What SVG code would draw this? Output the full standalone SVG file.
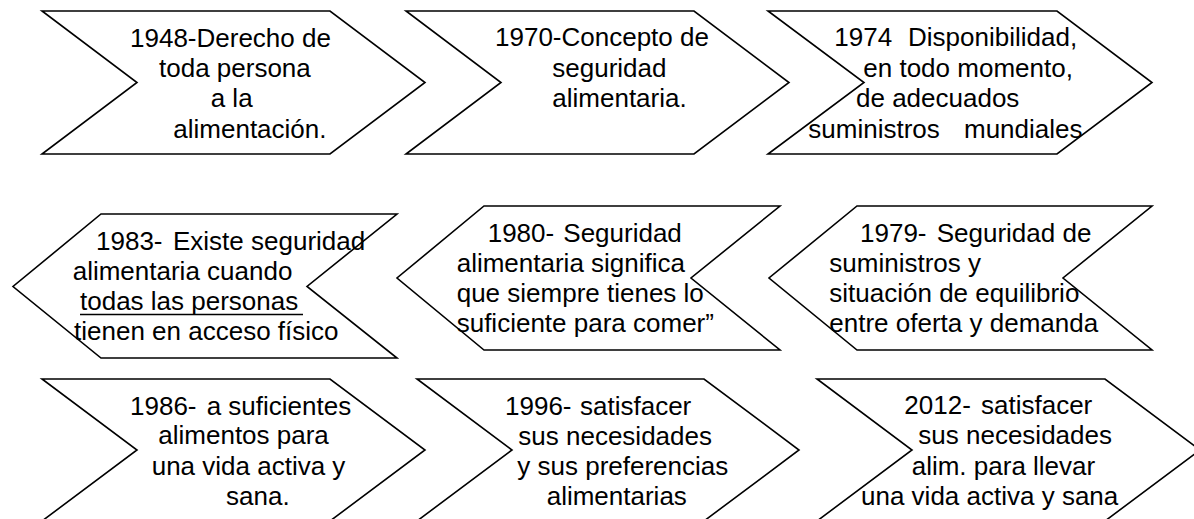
<svg xmlns="http://www.w3.org/2000/svg" width="1194" height="519" viewBox="0 0 1194 519">
<style>
.s{fill:#fff;stroke:#000;stroke-width:1.6;stroke-linejoin:miter}
.t{font-family:"Liberation Sans",Arial,sans-serif;font-size:26px;fill:#000}
</style>
<rect width="1194" height="519" fill="#fff"/>
<g id="connectors"></g>
<g id="n1948"><polygon class="s" points="42,11 330,11 425,82.5 330,154 42,154 137,82.5"/></g>
<g id="n1970"><polygon class="s" points="406,11 694,11 789,82.5 694,154 406,154 501,82.5"/></g>
<g id="n1974"><polygon class="s" points="768,11 1057,11 1152,82.5 1057,154 768,154 864,82.5"/></g>
<g id="n1983"><polygon class="s" points="101,214 397,214 307,286.5 397,358 101,358 13,286.5"/></g>
<g id="n1980"><polygon class="s" points="484,206 780,206 691,278 780,350 484,350 397,278"/></g>
<g id="n1979"><polygon class="s" points="857,206 1152,206 1063,278 1152,350 857,350 769,278"/></g>
<g id="n1986"><polygon class="s" points="42,379 330,379 425,450 330,521 42,521 137,450"/></g>
<g id="n1996"><polygon class="s" points="417,379 704,379 799,450 704,521 417,521 512,450"/></g>
<g id="n2012"><polygon class="s" points="817,379 1105,379 1200,450 1105,521 817,521 912,450"/></g>
<g id="labels" class="t">
<text><tspan x="130" y="47">1948-Derecho de</tspan><tspan x="159" y="77">toda persona</tspan><tspan x="210.7" y="107">a la</tspan><tspan x="173.3" y="138">alimentación.</tspan></text>
<text><tspan x="495" y="46">1970-Concepto de</tspan><tspan x="552.3" y="77">seguridad</tspan><tspan x="552.3" y="107">alimentaria.</tspan></text>
<text><tspan x="834.3" y="46">1974</tspan><tspan x="908" y="46">Disponibilidad,</tspan><tspan x="863.3" y="77">en todo momento,</tspan><tspan x="856" y="107">de adecuados</tspan><tspan x="808.3" y="138">suministros</tspan><tspan x="964" y="138">mundiales</tspan></text>
<text><tspan x="96" y="250">1983-</tspan><tspan x="173" y="250">Existe seguridad</tspan><tspan x="72.7" y="280">alimentaria cuando</tspan><tspan x="80" y="310">todas las personas</tspan><tspan x="74" y="340">tienen en acceso físico</tspan></text>
<line x1="80" y1="314.5" x2="303" y2="314.5" stroke="#000" stroke-width="1.6"/>
<text><tspan x="487.7" y="241.7">1980-</tspan><tspan x="563.3" y="241.7">Seguridad</tspan><tspan x="456.7" y="271.7">alimentaria significa</tspan><tspan x="456.7" y="301.7">que siempre tienes lo</tspan><tspan x="456.7" y="332">suficiente para comer”</tspan></text>
<text><tspan x="860" y="241.7">1979-</tspan><tspan x="936.7" y="241.7">Seguridad de</tspan><tspan x="829.3" y="271.7">suministros y</tspan><tspan x="829.3" y="301.7">situación de equilibrio</tspan><tspan x="829.3" y="332">entre oferta y demanda</tspan></text>
<text><tspan x="130" y="415">1986-</tspan><tspan x="206.7" y="415">a suficientes</tspan><tspan x="158.3" y="444.3">alimentos para</tspan><tspan x="151.7" y="475">una vida activa y</tspan><tspan x="226" y="505">sana.</tspan></text>
<text><tspan x="505" y="415">1996-</tspan><tspan x="580" y="415">satisfacer</tspan><tspan x="518.3" y="445">sus necesidades</tspan><tspan x="517.3" y="475">y sus preferencias</tspan><tspan x="546.7" y="505">alimentarias</tspan></text>
<text><tspan x="904.3" y="414">2012-</tspan><tspan x="981" y="414">satisfacer</tspan><tspan x="918.3" y="444">sus necesidades</tspan><tspan x="911.7" y="475">alim. para llevar</tspan><tspan x="861" y="505">una vida activa y sana</tspan></text>
</g>
</svg>
